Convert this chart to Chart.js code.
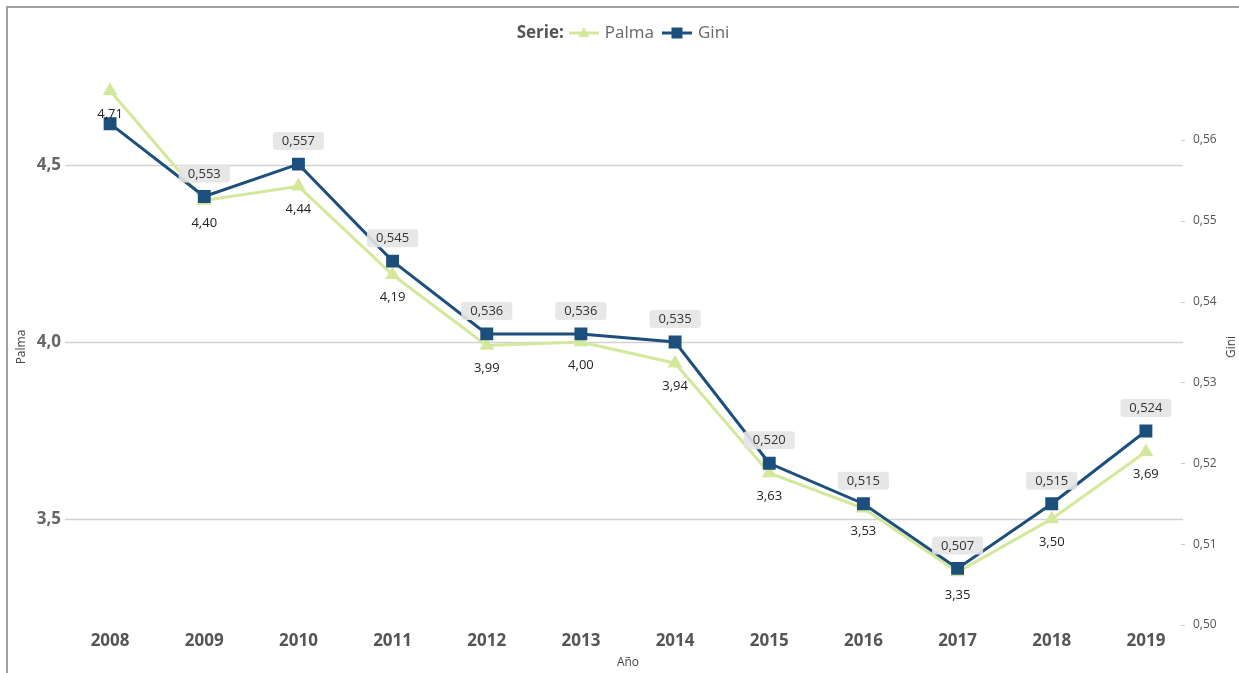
<!DOCTYPE html>
<html>
<head>
<meta charset="utf-8">
<script src="https://cdn.jsdelivr.net/npm/chart.js@4/dist/chart.umd.min.js"></script>
<style>
  html, body { margin: 0; padding: 0; background: #fff; }
  #wrap { position: relative; width: 1239px; height: 673px; }
  #frame { position: absolute; left: 6px; top: 6px; right: 0; bottom: 0; border-top: 2px solid #a0a0a0; border-left: 2px solid #a0a0a0; pointer-events: none; }
  canvas { position: absolute; left: 0; top: 0; }
</style>
</head>
<body>
<div id="wrap">
  <canvas id="c" width="1239" height="673"></canvas>
  <div id="frame"></div>
</div>
<script>
const years = ['2008','2009','2010','2011','2012','2013','2014','2015','2016','2017','2018','2019'];
const palma = [4.71, 4.40, 4.44, 4.19, 3.99, 4.00, 3.94, 3.63, 3.53, 3.35, 3.50, 3.69];
const gini = [0.562, 0.553, 0.557, 0.545, 0.536, 0.536, 0.535, 0.520, 0.515, 0.507, 0.515, 0.524];
const palmaTicks = [3.5, 4.0, 4.5];
const giniTicks = [0.50, 0.51, 0.52, 0.53, 0.54, 0.55, 0.56];
const legendTitle = 'Serie:';
const xTitle = 'Año';
const palmaTitle = 'Palma';
const giniTitle = 'Gini';

const PALMA_COLOR = '#d3e89a';
const GINI_COLOR = '#1d4f7c';
const FONT = '"Open Sans", "Noto Sans", sans-serif';

const fmt = (v, d) => v.toFixed(d).replace('.', ',');

function roundRect(ctx, x, y, w, h, r) {
  ctx.beginPath();
  ctx.moveTo(x + r, y);
  ctx.lineTo(x + w - r, y);
  ctx.quadraticCurveTo(x + w, y, x + w, y + r);
  ctx.lineTo(x + w, y + h - r);
  ctx.quadraticCurveTo(x + w, y + h, x + w - r, y + h);
  ctx.lineTo(x + r, y + h);
  ctx.quadraticCurveTo(x, y + h, x, y + h - r);
  ctx.lineTo(x, y + r);
  ctx.quadraticCurveTo(x, y, x + r, y);
  ctx.closePath();
}

const customPlugin = {
  id: 'custom',
  beforeDatasetsDraw(chart) {
    const ctx = chart.ctx;
    const ca = chart.chartArea;
    const yL = chart.scales.yPalma;
    const yR = chart.scales.yGini;
    ctx.save();
    ctx.strokeStyle = '#d2d2d2';
    ctx.lineWidth = 1.5;
    palmaTicks.forEach(v => {
      const y = Math.round(yL.getPixelForValue(v)) + 0.5;
      ctx.beginPath();
      ctx.moveTo(ca.left + 2, y);
      ctx.lineTo(ca.right - 10, y);
      ctx.stroke();
    });
    ctx.strokeStyle = '#c8c8c8';
    ctx.lineWidth = 1;
    giniTicks.forEach(v => {
      const y = Math.round(yR.getPixelForValue(v)) + 0.5;
      ctx.beginPath();
      ctx.moveTo(ca.right - 12, y);
      ctx.lineTo(ca.right - 8, y);
      ctx.stroke();
    });
    ctx.restore();
  },
  afterDatasetsDraw(chart) {
    const ctx = chart.ctx;
    ctx.save();
    ctx.font = '13px ' + FONT;
    ctx.textAlign = 'center';
    ctx.textBaseline = 'middle';
    const mp = chart.getDatasetMeta(0).data;
    const mg = chart.getDatasetMeta(1).data;
    const palmaBoxes = [];
    mp.forEach((pt, i) => {
      const t = fmt(palma[i], 2);
      const w = ctx.measureText(t).width;
      const cy = pt.y + 23;
      palmaBoxes.push({x1: pt.x - w / 2 - 5, x2: pt.x + w / 2 + 5, y1: cy - 8, y2: cy + 8});
    });
    mg.forEach((pt, i) => {
      const t = fmt(gini[i], 3);
      const w = ctx.measureText(t).width + 18;
      const h = 18;
      const cy = pt.y - 23;
      const box = {x1: pt.x - w / 2, x2: pt.x + w / 2, y1: cy - h / 2, y2: cy + h / 2};
      const hit = palmaBoxes.some(b => !(b.x2 < box.x1 || b.x1 > box.x2 || b.y2 < box.y1 || b.y1 > box.y2));
      if (hit) return;
      ctx.fillStyle = 'rgba(228,228,228,0.9)';
      roundRect(ctx, box.x1, box.y1, w, h, 3);
      ctx.fill();
      ctx.fillStyle = '#333';
      ctx.fillText(t, pt.x, cy + 0.5);
    });
    ctx.fillStyle = '#222';
    mp.forEach((pt, i) => {
      ctx.fillText(fmt(palma[i], 2), pt.x, pt.y + 23);
    });
    ctx.restore();
  },
  afterDraw(chart) {
    const ctx = chart.ctx;
    const ca = chart.chartArea;
    ctx.save();
    ctx.fillStyle = '#444';
    ctx.font = '12px ' + FONT;
    ctx.textAlign = 'center';
    ctx.textBaseline = 'middle';
    ctx.fillText(xTitle, (ca.left + ca.right) / 2, 663);
    const midY = (ca.top + ca.bottom) / 2 + 5;
    ctx.save();
    ctx.translate(22, midY);
    ctx.rotate(-Math.PI / 2);
    ctx.fillText(palmaTitle, 0, 0);
    ctx.restore();
    ctx.save();
    ctx.translate(1232, midY);
    ctx.rotate(-Math.PI / 2);
    ctx.fillText(giniTitle, 0, 0);
    ctx.restore();

    const y = 33;
    ctx.textBaseline = 'middle';
    ctx.textAlign = 'left';
    ctx.font = 'bold 17px ' + FONT;
    const wTitle = ctx.measureText(legendTitle).width;
    ctx.font = '17px ' + FONT;
    const wP = ctx.measureText(chart.data.datasets[0].label).width;
    const wG = ctx.measureText(chart.data.datasets[1].label).width;
    const sym = 30, gap1 = 5, gap2 = 6, gap3 = 8;
    const total = wTitle + gap1 + sym + gap2 + wP + gap3 + sym + gap2 + wG;
    let x = 623 - total / 2;
    ctx.font = 'bold 17px ' + FONT;
    ctx.fillStyle = '#555';
    ctx.fillText(legendTitle, x, y);
    x += wTitle + gap1;
    const drawSym = (x0, color, type) => {
      ctx.strokeStyle = color;
      ctx.lineWidth = 3;
      ctx.beginPath();
      ctx.moveTo(x0, y);
      ctx.lineTo(x0 + sym, y);
      ctx.stroke();
      ctx.fillStyle = color;
      const cx = x0 + sym / 2;
      if (type === 'triangle') {
        ctx.beginPath();
        ctx.moveTo(cx, y - 6);
        ctx.lineTo(cx + 5.5, y + 4);
        ctx.lineTo(cx - 5.5, y + 4);
        ctx.closePath();
        ctx.fill();
      } else {
        ctx.fillRect(cx - 5.5, y - 5.5, 11, 11);
      }
    };
    drawSym(x, PALMA_COLOR, 'triangle');
    x += sym + gap2;
    ctx.font = '17px ' + FONT;
    ctx.fillStyle = '#666';
    ctx.fillText(chart.data.datasets[0].label, x, y);
    x += wP + gap3;
    drawSym(x, GINI_COLOR, 'rect');
    x += sym + gap2;
    ctx.font = '17px ' + FONT;
    ctx.fillStyle = '#666';
    ctx.fillText(chart.data.datasets[1].label, x, y);
    ctx.restore();
  }
};

new Chart(document.getElementById('c'), {
  type: 'line',
  data: {
    labels: years,
    datasets: [
      {
        label: 'Palma',
        data: palma,
        yAxisID: 'yPalma',
        borderColor: PALMA_COLOR,
        backgroundColor: PALMA_COLOR,
        borderWidth: 3,
        pointStyle: 'triangle',
        pointRadius: 5.5,
        pointHoverRadius: 5.5,
        tension: 0,
        order: 2
      },
      {
        label: 'Gini',
        data: gini,
        yAxisID: 'yGini',
        borderColor: GINI_COLOR,
        backgroundColor: GINI_COLOR,
        borderWidth: 3,
        pointStyle: 'rect',
        pointRadius: 7,
        pointHoverRadius: 7,
        tension: 0,
        order: 1
      }
    ]
  },
  options: {
    responsive: false,
    animation: false,
    devicePixelRatio: 1,
    layout: { padding: { top: 59, left: 0, right: 0, bottom: 0 } },
    plugins: {
      legend: { display: false },
      tooltip: { enabled: false }
    },
    scales: {
      x: {
        type: 'category',
        offset: true,
        grid: { display: false, drawTicks: false },
        border: { display: false },
        ticks: {
          color: '#555',
          font: { family: FONT, size: 17, weight: 'bold' },
          padding: 6,
          maxRotation: 0
        },
        afterFit(scale) { scale.height = 48; }
      },
      yPalma: {
        type: 'linear',
        position: 'left',
        min: 3.2,
        max: 4.8,
        grid: { display: false, drawTicks: false },
        border: { display: false },
        afterBuildTicks(scale) { scale.ticks = palmaTicks.map(v => ({ value: v })); },
        ticks: {
          color: '#666',
          font: { family: FONT, size: 17, weight: 'bold' },
          padding: 2,
          callback: v => fmt(v, 1)
        },
        afterFit(scale) { scale.width = 63; }
      },
      yGini: {
        type: 'linear',
        position: 'right',
        min: 0.50,
        max: 0.57,
        grid: { display: false, drawTicks: false },
        border: { display: false },
        afterBuildTicks(scale) { scale.ticks = giniTicks.map(v => ({ value: v })); },
        ticks: {
          color: '#555',
          font: { family: FONT, size: 12 },
          padding: 0,
          callback: v => fmt(v, 2)
        },
        afterFit(scale) { scale.width = 46; }
      }
    }
  },
  plugins: [customPlugin]
});
</script>
</body>
</html>
